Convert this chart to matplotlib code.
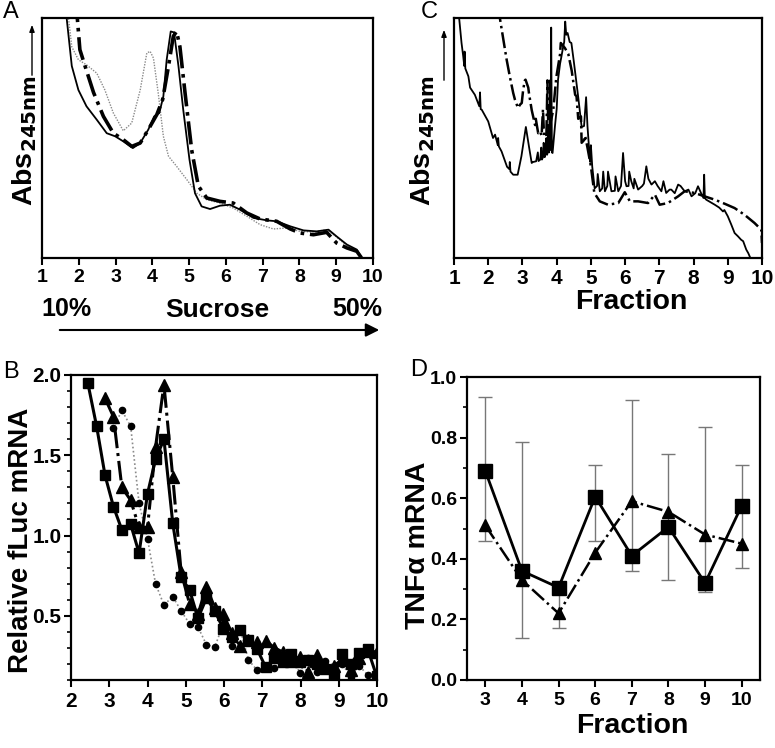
import matplotlib
matplotlib.use("Agg")
import matplotlib.pyplot as plt
from matplotlib.ticker import MultipleLocator, NullLocator

plt.rcParams['font.family'] = ['Liberation Sans', 'DejaVu Sans']
plt.rcParams['font.weight'] = 'bold'

# ---------------- Panel A: sucrose gradient profiles ----------------
a_solid_x = [1.62, 1.67, 1.81, 1.99, 2.21, 2.49, 2.76, 2.99, 3.21, 3.47, 3.67, 3.89, 4.05, 4.19,
             4.30, 4.39, 4.50, 4.59, 4.71, 4.84, 5.01, 5.16, 5.34, 5.57, 5.84, 6.11, 6.39, 6.75,
             7.11, 7.38, 7.75, 8.11, 8.47, 8.79, 9.01, 9.29, 9.56, 9.69]
a_solid_y = [1.10, 1.00, 0.80, 0.70, 0.632, 0.576, 0.52, 0.507, 0.486, 0.458, 0.479, 0.535, 0.59, 0.604,
             0.674, 0.826, 0.944, 0.94, 0.80, 0.618, 0.41, 0.27, 0.215, 0.204, 0.218, 0.222, 0.201, 0.167,
             0.157, 0.153, 0.132, 0.115, 0.111, 0.118, 0.09, 0.056, 0.035, 0.0]

a_dash_x = [1.94, 1.96, 2.03, 2.17, 2.40, 2.67, 2.94, 3.21, 3.44, 3.67, 3.89, 4.12, 4.28, 4.44, 4.57,
            4.66, 4.75, 4.89, 5.07, 5.25, 5.48, 5.84, 6.20, 6.57, 6.93, 7.38, 7.75, 8.02, 8.38, 8.74,
            9.01, 9.29, 9.56, 9.69]
a_dash_y = [1.10, 1.00, 0.868, 0.80, 0.69, 0.59, 0.52, 0.493, 0.465, 0.479, 0.535, 0.597, 0.66, 0.80, 0.924,
            0.944, 0.88, 0.687, 0.45, 0.30, 0.25, 0.236, 0.229, 0.1875, 0.1625, 0.153, 0.121, 0.104, 0.097, 0.107,
            0.0625, 0.042, 0.028, 0.0]

a_gray_x = [1.68, 1.72, 1.81, 1.99, 2.21, 2.49, 2.71, 2.94, 3.21, 3.44, 3.67, 3.85, 3.94, 4.03, 4.16,
            4.30, 4.44, 4.66, 4.94, 5.21, 5.48, 5.84, 6.20, 6.57, 6.93, 7.29, 7.65, 8.02, 8.38, 8.74,
            9.01, 9.29, 9.56, 9.69]
a_gray_y = [1.10, 1.00, 0.88, 0.826, 0.805, 0.77, 0.70, 0.604, 0.53, 0.5625, 0.70, 0.854, 0.861, 0.833, 0.6875,
            0.507, 0.424, 0.382, 0.326, 0.27, 0.243, 0.229, 0.208, 0.174, 0.139, 0.121, 0.125, 0.111, 0.108, 0.118,
            0.0875, 0.051, 0.028, 0.0]

# ---------------- Panel B: relative fLuc mRNA ----------------
b_sq_x = [2.44, 2.67, 2.89, 3.11, 3.33, 3.56, 3.78, 4.00, 4.21, 4.43, 4.66, 4.88, 5.10, 5.32, 5.54,
          5.76, 5.98, 6.21, 6.43, 6.64, 6.87, 7.09, 7.32, 7.53, 7.76, 7.98, 8.20, 8.42, 8.65, 8.87,
          9.09, 9.31, 9.53, 9.76, 9.99]
b_sq_y = [1.95, 1.68, 1.375, 1.18, 1.035, 1.07, 0.89, 1.26, 1.475, 1.60, 1.077, 0.74, 0.66, 0.485, 0.61,
          0.53, 0.42, 0.365, 0.41, 0.35, 0.29, 0.18, 0.235, 0.21, 0.26, 0.21, 0.225, 0.20, 0.17, 0.13,
          0.26, 0.20, 0.27, 0.29, 0.125]

b_tri_x = [2.89, 3.11, 3.33, 3.56, 3.78, 4.00, 4.21, 4.43, 4.66, 4.88, 5.10, 5.32, 5.54, 5.76, 5.98,
           6.21, 6.43, 6.64, 6.87, 7.09, 7.32, 7.53, 7.76, 7.98, 8.20, 8.42, 8.65, 8.87, 9.09, 9.31,
           9.53, 9.76, 9.99]
b_tri_y = [1.855, 1.74, 1.30, 1.22, 1.05, 1.05, 1.55, 1.94, 1.365, 0.77, 0.575, 0.51, 0.68, 0.55, 0.51,
           0.39, 0.31, 0.35, 0.335, 0.345, 0.30, 0.275, 0.22, 0.245, 0.15, 0.255, 0.20, 0.19, 0.225, 0.16,
           0.235, 0.28, 0.275]

b_dot_x = [3.11, 3.33, 3.56, 3.78, 4.00, 4.21, 4.43, 4.66, 4.88, 5.10, 5.32, 5.54, 5.76, 5.98, 6.21,
           6.43, 6.64, 6.87, 7.09, 7.32, 7.53, 7.76, 7.98, 8.20, 8.42, 8.65, 8.87, 9.09, 9.31, 9.53,
           9.76, 9.99]
b_dot_y = [1.67, 1.78, 1.68, 1.20, 0.98, 0.70, 0.567, 0.62, 0.53, 0.45, 0.43, 0.32, 0.305, 0.45, 0.31,
           0.41, 0.225, 0.16, 0.18, 0.175, 0.25, 0.26, 0.145, 0.24, 0.15, 0.22, 0.17, 0.20, 0.12, 0.19,
           0.13, 0.135]

# ---------------- Panel C: fraction profiles ----------------
c_solid_x = [1.10, 1.15, 1.22, 1.27, 1.30, 1.31, 1.33, 1.42, 1.47, 1.61, 1.74, 1.76, 1.78, 1.81, 2.00,
             2.14, 2.20, 2.28, 2.29, 2.31, 2.39, 2.55, 2.62, 2.63, 2.65, 2.73, 2.86, 2.97, 3.10, 3.19,
             3.27, 3.31, 3.40, 3.45, 3.47, 3.52, 3.55, 3.57, 3.60, 3.62, 3.65, 3.67, 3.70, 3.72, 3.74,
             3.76, 3.78, 3.80, 3.82, 3.84, 3.86, 3.88, 3.95, 4.00, 4.04, 4.10, 4.14, 4.19, 4.22, 4.25,
             4.28, 4.32, 4.38, 4.43, 4.50, 4.58, 4.63, 4.73, 4.80, 4.86, 4.90, 4.95, 4.98, 5.00, 5.04,
             5.08, 5.11, 5.18, 5.20, 5.26, 5.33, 5.36, 5.41, 5.48, 5.50, 5.60, 5.70, 5.72, 5.80, 5.88,
             5.94, 6.00, 6.04, 6.10, 6.12, 6.18, 6.25, 6.27, 6.38, 6.50, 6.55, 6.62, 6.68, 6.77, 6.80,
             6.87, 6.95, 7.06, 7.12, 7.20, 7.30, 7.35, 7.45, 7.55, 7.62, 7.74, 7.85, 7.94, 8.05, 8.13,
             8.22, 8.29, 8.31, 8.33, 8.37, 8.50, 8.62, 8.75, 8.86, 8.90, 9.00, 9.10, 9.20, 9.30, 9.39,
             9.45, 9.54, 9.60, 9.66]
c_solid_y = [1.05, 1.00, 0.896, 0.84, 0.80, 0.86, 0.79, 0.757, 0.71, 0.68, 0.632, 0.69, 0.62, 0.618, 0.569,
             0.50, 0.514, 0.47, 0.50, 0.465, 0.444, 0.38, 0.37, 0.40, 0.36, 0.347, 0.347, 0.424, 0.546, 0.465,
             0.396, 0.40, 0.403, 0.44, 0.404, 0.41, 0.46, 0.41, 0.42, 0.48, 0.42, 0.43, 0.50, 0.43, 0.44,
             0.55, 0.44, 0.74, 0.45, 0.96, 0.44, 0.4375, 0.549, 0.62, 0.743, 0.81, 0.84, 0.88, 0.90, 0.985,
             0.93, 0.9375, 0.90, 0.896, 0.82, 0.729, 0.67, 0.546, 0.55, 0.67, 0.55, 0.45, 0.40, 0.47, 0.38,
             0.33, 0.29, 0.30, 0.35, 0.278, 0.29, 0.36, 0.278, 0.30, 0.36, 0.278, 0.28, 0.34, 0.278, 0.30,
             0.4375, 0.32, 0.299, 0.30, 0.36, 0.32, 0.29, 0.33, 0.285, 0.30, 0.31, 0.382, 0.33, 0.306, 0.31,
             0.32, 0.30, 0.278, 0.32, 0.271, 0.285, 0.285, 0.27, 0.306, 0.30, 0.278, 0.285, 0.257, 0.27, 0.299,
             0.27, 0.25, 0.347, 0.25, 0.243, 0.232, 0.222, 0.21, 0.194, 0.20, 0.174, 0.14, 0.104, 0.09, 0.076,
             0.07, 0.035, 0.02, 0.0]

c_dash_x = [2.32, 2.34, 2.49, 2.54, 2.63, 2.73, 2.78, 2.87, 2.93, 2.98, 3.02, 3.07, 3.09, 3.17, 3.19,
            3.27, 3.29, 3.37, 3.39, 3.41, 3.46, 3.51, 3.56, 3.60, 3.63, 3.66, 3.70, 3.73, 3.76, 3.78,
            3.80, 3.90, 3.99, 4.10, 4.12, 4.24, 4.34, 4.44, 4.54, 4.58, 4.63, 4.71, 4.73, 4.81, 4.83,
            4.90, 5.00, 5.10, 5.26, 5.50, 5.80, 5.99, 6.14, 6.38, 6.67, 6.87, 7.01, 7.25, 7.55, 7.74,
            8.03, 8.32, 8.62, 8.91, 9.20, 9.49, 9.78, 9.98, 10.0]
c_dash_y = [1.05, 1.00, 0.868, 0.825, 0.757, 0.6875, 0.66, 0.625, 0.639, 0.646, 0.70, 0.74, 0.743, 0.71, 0.6875,
            0.617, 0.604, 0.554, 0.58, 0.5625, 0.52, 0.528, 0.51, 0.62, 0.51, 0.504, 0.507, 0.74, 0.50, 0.48,
            0.549, 0.617, 0.754, 0.85, 0.896, 0.875, 0.85, 0.78, 0.68, 0.674, 0.58, 0.59, 0.48, 0.493, 0.51,
            0.46, 0.382, 0.271, 0.236, 0.222, 0.229, 0.274, 0.236, 0.236, 0.229, 0.264, 0.222, 0.229, 0.257, 0.278,
            0.271, 0.257, 0.243, 0.226, 0.208, 0.18, 0.146, 0.118, 0.0625]

# ---------------- Panel D: TNFalpha mRNA ----------------
d_fraction = [3, 4, 5, 6, 7, 8, 9, 10]
d_square = [0.69, 0.36, 0.305, 0.605, 0.41, 0.505, 0.32, 0.575]
d_triangle = [0.51, 0.33, 0.22, 0.42, 0.59, 0.555, 0.48, 0.45]
d_err_low = [0.46, 0.14, 0.17, 0.46, 0.36, 0.33, 0.29, 0.37]
d_err_high = [0.935, 0.785, 0.30, 0.71, 0.925, 0.745, 0.835, 0.71]

W, H = 775, 748
fig = plt.figure(figsize=(W / 100, H / 100), dpi=100)


def add_ax(left, top, right, bottom):
    return fig.add_axes([left / W, 1 - bottom / H, (right - left) / W, (bottom - top) / H])


def style(ax, size):
    for s in ax.spines.values():
        s.set_linewidth(1.6)
    ax.tick_params(direction='out', width=1.5, length=5, labelsize=size)
    for lab in ax.get_xticklabels() + ax.get_yticklabels():
        lab.set_fontweight('bold')


def ftext(xp, yp, s, **kw):
    return fig.text(xp / W, 1 - yp / H, s, ha='center', va='center', **kw)


# Panel A
axA = add_ax(42, 18, 373, 258)
axA.plot(a_gray_x, a_gray_y, color='#8a8a8a', lw=1.0, ls=(0, (1, 1)))
axA.plot(a_solid_x, a_solid_y, color='black', lw=1.3, ls='-')
axA.plot(a_dash_x, a_dash_y, color='black', lw=2.6, ls='-.')
axA.set_xlim(1, 10)
axA.set_ylim(0, 1)
axA.set_xticks(range(1, 11))
axA.yaxis.set_major_locator(NullLocator())
style(axA, 14)
axA.tick_params(axis='x', pad=3)

# Panel B
axB = add_ax(71, 375, 377, 680)
axB.plot(b_dot_x, b_dot_y, color='#8a8a8a', lw=1.2, ls=(0, (1, 1.5)),
         marker='o', ms=4.5, mfc='black', mec='black')
axB.plot(b_sq_x, b_sq_y, color='black', lw=2.2, ls='-', marker='s', ms=7.5)
axB.plot(b_tri_x, b_tri_y, color='black', lw=2.2, ls='-.', marker='^', ms=8.5)
axB.set_xlim(2, 10)
axB.set_ylim(0.1, 2.0)
axB.set_xticks(range(2, 11))
axB.set_yticks([0.5, 1.0, 1.5, 2.0])
axB.set_yticklabels(['0.5', '1.0', '1.5', '2.0'])
axB.yaxis.set_minor_locator(MultipleLocator(0.1))
style(axB, 15)
axB.tick_params(axis='y', which='minor', length=3, width=1.2)
axB.tick_params(axis='y', which='major', pad=2)
ftext(21, 540, 'Relative fLuc mRNA', rotation=90, fontsize=20, fontweight='bold')

# Panel C
axC = add_ax(454, 18, 762, 258)
axC.plot(c_solid_x, c_solid_y, color='black', lw=1.3, ls='-')
axC.plot(c_dash_x, c_dash_y, color='black', lw=1.8, ls='-.')
axC.set_xlim(1, 10)
axC.set_ylim(0, 1)
axC.set_xticks(range(1, 11))
axC.yaxis.set_major_locator(NullLocator())
style(axC, 15)
axC.tick_params(axis='x', pad=3)
ftext(631, 302, 'Fraction', fontsize=20.5, fontweight='bold')

# Panel D
axD = add_ax(467, 377, 760, 680)
axD.errorbar(d_fraction, [(l + h) / 2 for l, h in zip(d_err_low, d_err_high)],
             yerr=[(h - l) / 2 for l, h in zip(d_err_low, d_err_high)],
             fmt='none', ecolor='#777777', elinewidth=1.0, capsize=5, capthick=1.0, zorder=1)
axD.plot(d_fraction, d_square, color='black', lw=2.0, ls='-', marker='s', ms=10, zorder=3)
axD.plot(d_fraction, d_triangle, color='black', lw=1.8, ls='-.', marker='^', ms=8, zorder=3)
axD.set_xlim(2.5, 10.5)
axD.set_ylim(0, 1.0)
axD.set_xticks(d_fraction)
axD.set_yticks([0.0, 0.2, 0.4, 0.6, 0.8, 1.0])
axD.set_yticklabels(['0.0', '0.2', '0.4', '0.6', '0.8', '1.0'])
axD.yaxis.set_minor_locator(MultipleLocator(0.1))
style(axD, 14)
axD.tick_params(axis='y', which='minor', length=3, width=1.2)
axD.tick_params(axis='y', which='major', pad=2)
ftext(418, 545, 'TNFα mRNA', rotation=90, fontsize=20.5, fontweight='bold')
ftext(632, 726, 'Fraction', fontsize=20.5, fontweight='bold')

# Y labels with subscript for A and C
for xpix in (25, 423):
    ftext(xpix, 140, r'Abs$_{\mathbf{245nm}}$', rotation=90, fontsize=20.5, fontweight='bold')
# vertical arrows
for xpix, y0, y1 in ((32, 78, 22), (444, 83, 27)):
    fig.add_artist(matplotlib.patches.FancyArrowPatch(
        (xpix / W, 1 - y0 / H), (xpix / W, 1 - y1 / H), transform=fig.transFigure,
        arrowstyle='-|>,head_length=4,head_width=1.5', color='black', lw=1.0))

# Sucrose annotation under A
ftext(66, 309, '10%', fontsize=18, fontweight='bold')
ftext(217, 310, 'Sucrose', fontsize=19, fontweight='bold')
ftext(357, 309, '50%', fontsize=18, fontweight='bold')
fig.add_artist(matplotlib.patches.FancyArrowPatch(
    (57 / W, 1 - 330 / H), (382 / W, 1 - 330 / H), transform=fig.transFigure,
    arrowstyle='-|>,head_length=8,head_width=4', color='black', lw=1.5))

# Panel letters
for letter, xp, yp in (('A', 3, 12), ('B', 3, 372), ('C', 421, 12), ('D', 410, 370)):
    fig.text(xp / W, 1 - yp / H, letter, fontsize=17, fontweight='normal', ha='left', va='center')

fig.savefig('out.png', dpi=100)
